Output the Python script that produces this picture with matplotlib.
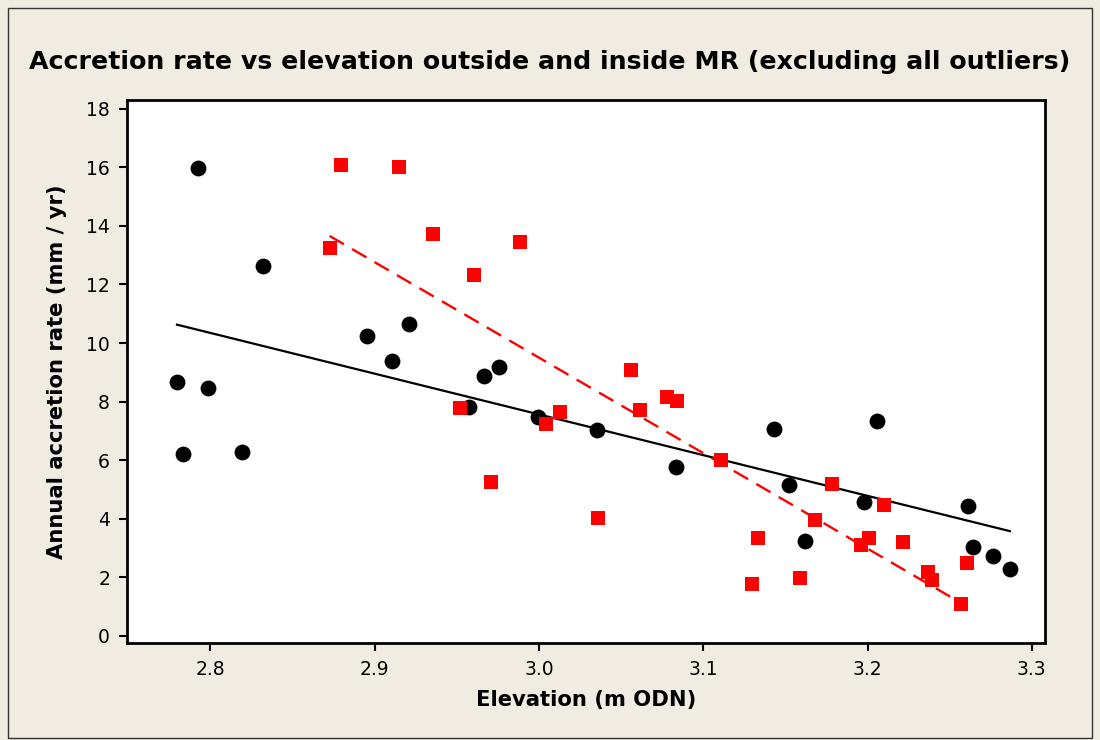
import matplotlib
matplotlib.use("Agg")
import matplotlib.pyplot as plt
from matplotlib.patches import Rectangle
import numpy as np

# outside MR (black circles)
out_elev = [2.7796, 2.7831, 2.7926, 2.7983, 2.8194, 2.8321, 2.8951, 2.9105, 2.9208,
            2.9575, 2.9665, 2.9758, 2.9991, 3.0352, 3.0831, 3.1428, 3.1521, 3.1617,
            3.1978, 3.2058, 3.2609, 3.2643, 3.2761, 3.2866]
out_rate = [8.66, 6.22, 15.99, 8.47, 6.29, 12.62, 10.25, 9.40, 10.64,
            7.82, 8.88, 9.19, 7.49, 7.02, 5.76, 7.08, 5.17, 3.25,
            4.57, 7.35, 4.45, 3.05, 2.73, 2.28]

# inside MR (red squares)
in_elev = [2.8725, 2.8794, 2.9145, 2.9354, 2.9519, 2.9602, 2.9705, 2.9882, 3.0044,
           3.0125, 3.0358, 3.0559, 3.0616, 3.0780, 3.0839, 3.1107, 3.1294, 3.1330,
           3.1586, 3.1681, 3.1785, 3.1959, 3.2006, 3.2101, 3.2217, 3.2369, 3.2393,
           3.2568, 3.2603]
in_rate = [13.25, 16.08, 16.01, 13.71, 7.77, 12.31, 5.27, 13.44, 7.25,
           7.64, 4.02, 9.09, 7.71, 8.17, 8.03, 6.00, 1.78, 3.36,
           1.97, 3.95, 5.20, 3.10, 3.36, 4.48, 3.22, 2.19, 1.91,
           1.10, 2.50]

xticks = [2.8, 2.9, 3.0, 3.1, 3.2, 3.3]
yticks = [0, 2, 4, 6, 8, 10, 12, 14, 16, 18]

bg = "#F0ECE2"
plt.rcParams["font.family"] = "DejaVu Sans"

fig = plt.figure(figsize=(11, 7.4), dpi=100, facecolor=bg)
ax = fig.add_axes([0.1152, 0.1311, 0.8348, 0.7338])
ax.set_facecolor("white")

ax.scatter(out_elev, out_rate, s=130, marker="o", color="black", zorder=3, linewidths=0)
ax.scatter(in_elev, in_rate, s=100, marker="s", color="#FF0000", zorder=4, linewidths=0)

# fitted lines
xo = np.array(out_elev)
b1, a1 = np.polyfit(xo, out_rate, 1)
xs = np.array([xo.min(), xo.max()])
ax.plot(xs, a1 + b1 * xs, color="black", lw=1.6, zorder=2)

xi = np.array(in_elev)
b2, a2 = np.polyfit(xi, in_rate, 1)
xs = np.array([xi.min(), xi.max()])
ax.plot(xs, a2 + b2 * xs, color="#FF0000", lw=1.7, dashes=(7, 4), zorder=2)

ax.set_xlim(2.749, 3.308)
ax.set_ylim(-0.24, 18.3)
ax.set_xticks(xticks)
ax.set_xticklabels(["%.1f" % v for v in xticks])
ax.set_yticks(yticks)
ax.tick_params(axis="both", direction="out", length=6, width=1.5, labelsize=13.5, pad=6)
for s in ax.spines.values():
    s.set_linewidth(2)

ax.set_xlabel("Elevation (m ODN)", fontsize=15.2, fontweight="bold", labelpad=8)
ax.set_ylabel("Annual accretion rate (mm / yr)", fontsize=15.2, fontweight="bold", labelpad=14)
fig.text(0.5, 0.916, "Accretion rate vs elevation outside and inside MR (excluding all outliers)",
         ha="center", va="center", fontsize=18.2, fontweight="bold")

fig.patches.append(Rectangle((8 / 1100, 2 / 740), 1084 / 1100, 730 / 740, transform=fig.transFigure,
                             fill=False, edgecolor="#333333", lw=1))

fig.savefig("out.png", dpi=100, facecolor=bg)
